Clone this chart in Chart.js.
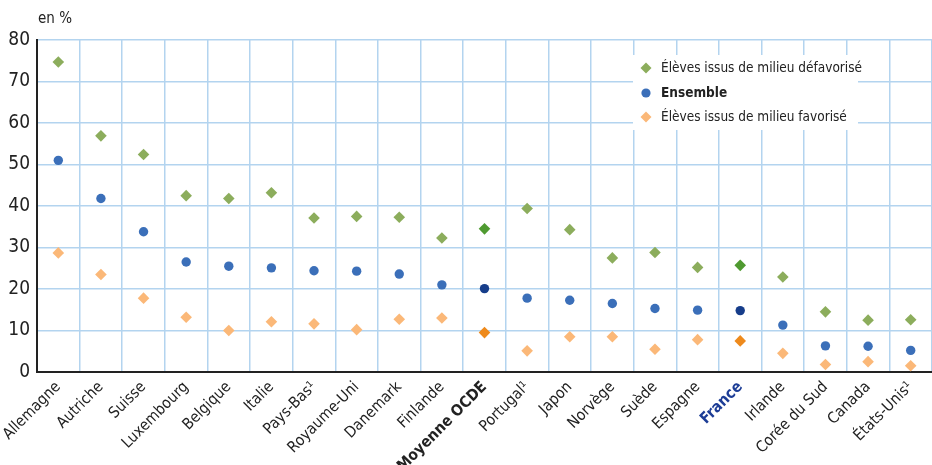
<!DOCTYPE html>
<html lang="fr">
<head>
<meta charset="utf-8">
<title>Élèves issus de milieu défavorisé / favorisé</title>
<script src="https://cdn.jsdelivr.net/npm/chart.js@4/dist/chart.umd.min.js"></script>
<style>
  html, body { margin: 0; padding: 0; background: #fff; }
  #wrap { position: relative; width: 932px; height: 465px; }
</style>
</head>
<body>
<div id="wrap"><canvas id="c" width="932" height="465"></canvas></div>
<script>
// Pays, triés comme dans la publication
const categories = ['Allemagne', 'Autriche', 'Suisse', 'Luxembourg', 'Belgique', 'Italie',
  'Pays-Bas¹', 'Royaume-Uni', 'Danemark', 'Finlande', 'Moyenne OCDE', 'Portugal¹', 'Japon',
  'Norvège', 'Suède', 'Espagne', 'France', 'Irlande', 'Corée du Sud', 'Canada', 'États-Unis¹'];

// Valeurs en %
const defavorise = [74.7, 56.9, 52.4, 42.5, 41.8, 43.2, 37.1, 37.5, 37.3, 32.3, 34.5, 39.4, 34.3,
  27.5, 28.8, 25.2, 25.7, 22.9, 14.5, 12.5, 12.6];
const ensemble = [51.0, 41.8, 33.8, 26.5, 25.5, 25.1, 24.4, 24.3, 23.6, 21.0, 20.1, 17.8, 17.3,
  16.5, 15.3, 14.9, 14.8, 11.3, 6.3, 6.2, 5.2];
const favorise = [28.7, 23.5, 17.8, 13.2, 10.0, 12.1, 11.6, 10.2, 12.7, 13.0, 9.5, 5.1, 8.5,
  8.5, 5.5, 7.8, 7.5, 4.5, 1.8, 2.5, 1.5];

const seriesNames = ['Élèves issus de milieu défavorisé', 'Ensemble', 'Élèves issus de milieu favorisé'];
const yTickValues = [0, 10, 20, 30, 40, 50, 60, 70, 80];

const OCDE = 'Moyenne OCDE';
const FRANCE = 'France';

const FONT = "'Liberation Sans Narrow', 'DejaVu Sans Condensed', 'Arial Narrow', sans-serif";
const GRID = '#b3d4ef';

const palette = {
  def: { base: '#8cad5c', hi: '#4f9a30' },
  ens: { base: '#3b6fb9', hi: '#163d8a' },
  fav: { base: '#fbb878', hi: '#ee8a1c' }
};
const isHi = i => categories[i] === OCDE || categories[i] === FRANCE;
const colorsFor = p => categories.map((_, i) => isHi(i) ? p.hi : p.base);

function series(label, data, p, style, radius) {
  return {
    label, data,
    showLine: false,
    pointStyle: style,
    pointRadius: radius,
    pointHoverRadius: radius,
    pointBorderWidth: 0,
    pointBackgroundColor: colorsFor(p),
    pointBorderColor: colorsFor(p),
    backgroundColor: p.base,
    borderColor: p.base,
    clip: false
  };
}

// Légende encadrée placée dans la zone du graphique + unité
const overlay = {
  id: 'overlay',
  beforeDatasetsDraw(chart) {
    const ctx = chart.ctx;
    ctx.save();
    ctx.fillStyle = '#fff';
    ctx.fillRect(633, 55, 225, 75);
    const rows = [
      { y: 68, style: 'diamond', color: palette.def.base, text: seriesNames[0], bold: false },
      { y: 93, style: 'circle', color: palette.ens.base, text: seriesNames[1], bold: true },
      { y: 117, style: 'diamond', color: palette.fav.base, text: seriesNames[2], bold: false }
    ];
    rows.forEach(r => {
      const x = 646;
      ctx.fillStyle = r.color;
      ctx.beginPath();
      if (r.style === 'diamond') {
        ctx.moveTo(x, r.y - 5.5); ctx.lineTo(x + 5.5, r.y);
        ctx.lineTo(x, r.y + 5.5); ctx.lineTo(x - 5.5, r.y);
        ctx.closePath();
      } else {
        ctx.arc(x, r.y, 4.6, 0, Math.PI * 2);
      }
      ctx.fill();
      ctx.fillStyle = '#222';
      ctx.font = (r.bold ? 'bold ' : '') + '13.5px ' + FONT;
      ctx.textBaseline = 'middle';
      ctx.textAlign = 'left';
      ctx.fillText(r.text, 661, r.y);
    });
    ctx.restore();
  },
  afterDraw(chart) {
    const ctx = chart.ctx;
    ctx.save();
    ctx.fillStyle = '#222';
    ctx.font = '15px ' + FONT;
    ctx.textBaseline = 'middle';
    ctx.textAlign = 'left';
    ctx.fillText('en %', 38, 19);
    ctx.restore();
  }
};

new Chart(document.getElementById('c'), {
  type: 'line',
  data: {
    labels: categories,
    datasets: [
      series(seriesNames[0], defavorise, palette.def, 'rectRot', 5.8),
      series(seriesNames[1], ensemble, palette.ens, 'circle', 4.7),
      series(seriesNames[2], favorise, palette.fav, 'rectRot', 5.8)
    ]
  },
  options: {
    responsive: false,
    devicePixelRatio: 1,
    animation: false,
    layout: { autoPadding: false, padding: { top: 40, left: 0, right: 0, bottom: 0 } },
    plugins: {
      legend: { display: false },
      tooltip: { enabled: false },
      title: { display: false }
    },
    scales: {
      x: {
        type: 'category',
        offset: true,
        grid: { offset: true, color: GRID, lineWidth: 1.5, drawTicks: false },
        border: { color: '#222', width: 2 },
        ticks: {
          autoSkip: false,
          maxRotation: 45,
          minRotation: 45,
          padding: 6,
          color: ctx => categories[ctx.index] === FRANCE ? '#1d3d96' : '#222',
          font: ctx => ({
            family: FONT,
            size: 15.5,
            weight: isHi(ctx.index) ? 'bold' : 'normal'
          })
        },
        afterFit: s => {
          s.height = 93;
          s.paddingLeft = 0;
          s.paddingRight = 0;
        }
      },
      y: {
        min: 0,
        max: 80,
        afterBuildTicks: s => { s.ticks = yTickValues.map(v => ({ value: v })); },
        grid: { color: GRID, lineWidth: 1.5, drawTicks: false },
        border: { color: '#222', width: 2 },
        ticks: { padding: 7, color: '#222', font: { family: FONT, size: 19 } },
        afterFit: s => {
          s.width = 37;
          s.paddingTop = 0;
          s.paddingBottom = 0;
        }
      }
    }
  },
  plugins: [overlay]
});
</script>
</body>
</html>
